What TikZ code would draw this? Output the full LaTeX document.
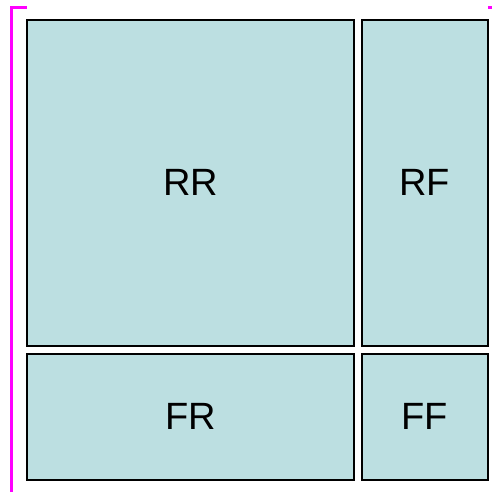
\documentclass[tikz,border=0pt]{standalone}
\usepackage{fontspec}
\setmainfont{Liberation Sans}
\definecolor{boxfill}{RGB}{188,223,225}
\definecolor{mag}{RGB}{255,0,255}
\begin{document}
\begin{tikzpicture}[x=1pt,y=-1pt,
  cell/.style={draw=black,line width=2pt,fill=boxfill,inner sep=0pt,outer sep=0pt,
    font=\fontsize{38}{41}\selectfont},
  bracket/.style={draw=mag,line width=3pt}]
\useasboundingbox (0,0) rectangle (492,491);
\node[cell,minimum width=327pt,minimum height=326pt] (RR) at (190.5,182.5) {RR};
\node[cell,minimum width=125.5pt,minimum height=326pt] (RF) at (424.75,182.5) {RF};
\node[cell,minimum width=327pt,minimum height=126.5pt] (FR) at (190.5,416.75) {FR};
\node[cell,minimum width=125.5pt,minimum height=126.5pt] (FF) at (424.75,416.75) {FF};
\coordinate (b1) at (11,492);
\coordinate (b2) at (11,7);
\coordinate (b3) at (27,7);
\draw[bracket] (b1) -- (b2) -- (b3);
\coordinate (t1) at (488,7);
\coordinate (t2) at (493,7);
\draw[bracket] (t1) -- (t2);
\end{tikzpicture}
\end{document}
